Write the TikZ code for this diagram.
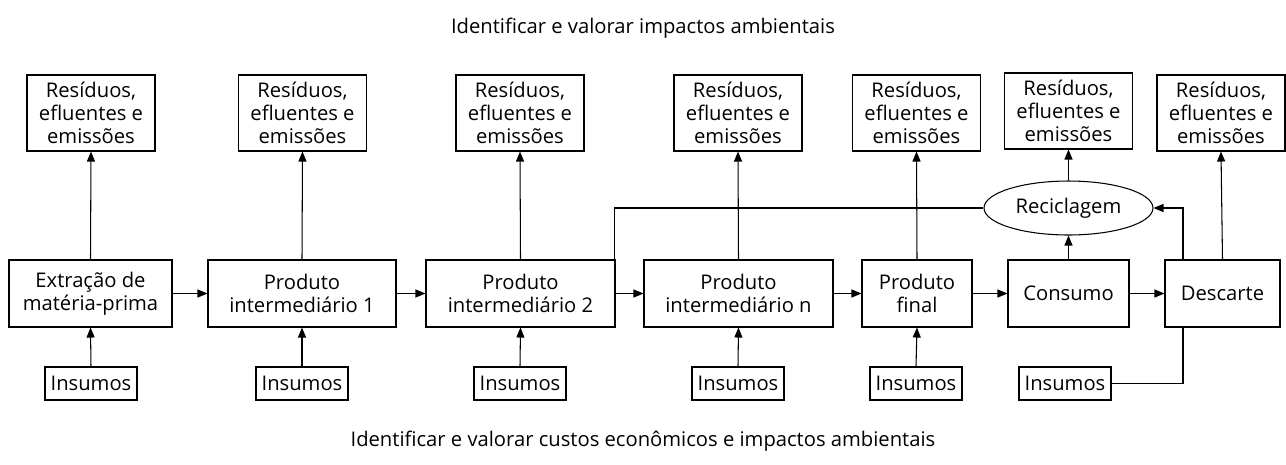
\documentclass[tikz,border=0pt]{standalone}
\usepackage{fontspec}
\setmainfont{Open Sans}
\usetikzlibrary{shapes.geometric, arrows.meta, calc}
\tikzset{
  caixa/.style={draw, align=center, inner sep=0pt, line width=0.6pt, font=\fontsize{11.5}{13}\selectfont},
  residuo/.style={caixa, minimum width=2.56cm, minimum height=1.52cm},
  insumo/.style={caixa, minimum width=1.84cm, minimum height=0.66cm},
  seta/.style={-{Triangle[length=2mm, width=1.6mm]}, line width=0.6pt},
  linha/.style={line width=0.6pt}
}

\begin{document}
\begin{tikzpicture}[x=0.02cm, y=-0.02cm]
\useasboundingbox (0,0) rectangle (1286,464);

\node[font=\fontsize{11.5}{13}\selectfont] (topo) at (643,28) {Identificar e valorar impactos ambientais};
\node[font=\fontsize{11.5}{13}\selectfont] (base) at (643,441) {Identificar e valorar custos econômicos e impactos ambientais};

% etapas
\node[caixa, minimum width=3.26cm, minimum height=1.34cm] (extr) at (90.5,293.5) {Extração de\\matéria-prima};
\node[caixa, minimum width=3.76cm, minimum height=1.34cm] (prod1) at (302,293.5) {Produto\\intermediário 1};
\node[caixa, minimum width=3.78cm, minimum height=1.34cm] (prod2) at (520.5,293.5) {Produto\\intermediário 2};
\node[caixa, minimum width=3.78cm, minimum height=1.34cm] (prodn) at (738.5,293.5) {Produto\\intermediário n};
\node[caixa, minimum width=2.2cm, minimum height=1.34cm] (final) at (917,293.5) {Produto\\final};
\node[caixa, minimum width=2.42cm, minimum height=1.34cm] (cons) at (1068.5,293.5) {Consumo};
\node[caixa, minimum width=2.3cm, minimum height=1.34cm] (desc) at (1222.5,293.5) {Descarte};

\node[caixa, ellipse, minimum width=3.38cm, minimum height=1.08cm] (recic) at (1068.5,208) {Reciclagem};

% residuos
\node[residuo] (res1) at (91,113) {Resíduos,\\efluentes e\\emissões};
\node[residuo] (res2) at (302.5,113) {Resíduos,\\efluentes e\\emissões};
\node[residuo] (res3) at (520,113) {Resíduos,\\efluentes e\\emissões};
\node[residuo] (res4) at (738,113) {Resíduos,\\efluentes e\\emissões};
\node[residuo] (res5) at (916.5,113) {Resíduos,\\efluentes e\\emissões};
\node[residuo] (res6) at (1068.5,111) {Resíduos,\\efluentes e\\emissões};
\node[residuo] (res7) at (1221,113) {Resíduos,\\efluentes e\\emissões};

% insumos
\node[insumo] (ins1) at (91,383.5) {Insumos};
\node[insumo] (ins2) at (302,383.5) {Insumos};
\node[insumo] (ins3) at (520,383.5) {Insumos};
\node[insumo] (ins4) at (738,383.5) {Insumos};
\node[insumo] (ins5) at (916,383.5) {Insumos};
\node[insumo] (ins6) at (1065,383.5) {Insumos};

\draw[seta] (extr) -- (prod1);
\draw[seta] (prod1) -- (prod2);
\draw[seta] (prod2) -- (prodn);
\draw[seta] (prodn) -- (final);
\draw[seta] (final) -- (cons);
\draw[seta] (cons) -- (desc);

\foreach \a/\b in {extr/res1, prod1/res2, prod2/res3, prodn/res4, final/res5, recic/res6, desc/res7, cons/recic}
  \draw[seta] (\a.north) -- (\b.south);
\foreach \a/\b in {ins1/extr, ins2/prod1, ins3/prod2, ins4/prodn, ins5/final}
  \draw[seta] (\a.north) -- (\b.south);

\draw[linha] ([xshift=-0.02cm]prod2.north east) |- (recic.west);
\draw[linha] (ins6.east) -| ([xshift=-0.79cm]desc.south);
\draw[seta] ([xshift=-0.79cm]desc.north) |- (recic.east);

\end{tikzpicture}
\end{document}
